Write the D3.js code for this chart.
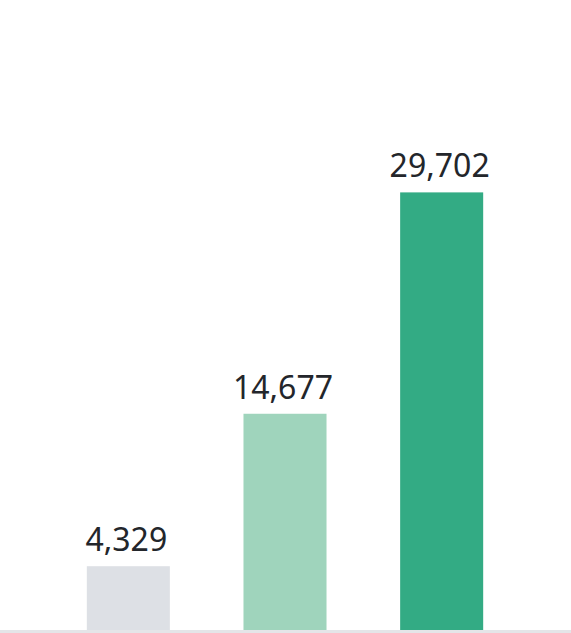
<!DOCTYPE html>
<html>
<head>
<meta charset="utf-8">
<script src="https://cdn.jsdelivr.net/npm/d3@7"></script>
<style>
  html, body { margin: 0; padding: 0; background: #ffffff; }
  svg { display: block; }
</style>
</head>
<body>
<svg id="chart" width="571" height="633"></svg>
<script>
// Category keys, values and fills for the three bars
const categories = ["a", "b", "c"];
const values = [4329, 14677, 29702];
const colors = ["#dde0e5", "#9fd4bc", "#33ab84"];

const width = 571, height = 633;
const baseY = 630;

const svg = d3.select("#chart");

const x = d3.scaleBand()
  .domain(categories)
  .range([50, 520])
  .paddingInner(0.47)
  .paddingOuter(0.235);

const y = d3.scaleLinear()
  .domain([0, 30000])
  .range([baseY, 188]);

const fmt = d3.format(",");

// Bars
svg.selectAll("rect.bar")
  .data(values)
  .join("rect")
  .attr("class", "bar")
  .attr("x", (d, i) => x(categories[i]))
  .attr("y", d => y(d))
  .attr("width", x.bandwidth())
  .attr("height", d => baseY - y(d))
  .attr("fill", (d, i) => colors[i]);

// Value labels above bars
svg.selectAll("text.value")
  .data(values)
  .join("text")
  .attr("class", "value")
  .attr("x", (d, i) => x(categories[i]) + x.bandwidth() / 2 - 2)
  .attr("y", d => y(d) - 15)
  .attr("text-anchor", "middle")
  .attr("font-family", "'Noto Sans', sans-serif")
  .attr("font-size", 32)
  .attr("fill", "#23262b")
  .text(d => fmt(d));

// Baseline
svg.append("rect")
  .attr("x", 0)
  .attr("y", baseY)
  .attr("width", width)
  .attr("height", 3)
  .attr("fill", "#e4e5e8");
</script>
</body>
</html>
